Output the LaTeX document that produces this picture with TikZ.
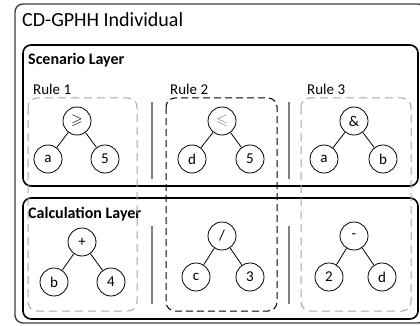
\documentclass[tikz,border=0pt]{standalone}
\usepackage{amssymb}
\usepackage{fontspec}
\setmainfont{Carlito}
\begin{document}
\begin{tikzpicture}[x=1pt,y=-1pt,
  treenode/.style={circle,draw=black,line width=0.8pt,minimum size=28pt,inner sep=0pt,font=\fontsize{15}{15}\selectfont},
  edge/.style={draw=black,line width=0.8pt},
  layerbox/.style={draw=black,line width=1.6pt,rounded corners=8pt},
  rulelight/.style={draw=black!35,line width=1pt,dash pattern=on 8pt off 5pt,rounded corners=9pt},
  ruledark/.style={draw=black,line width=1pt,dash pattern=on 7pt off 4pt,rounded corners=9pt},
  separator/.style={draw=black!50,line width=1.6pt},
  title/.style={anchor=base west,inner sep=0pt,font=\fontsize{20}{20}\selectfont},
  layertitle/.style={anchor=base west,inner sep=0pt,font=\fontsize{16}{16}\selectfont\bfseries},
  rulelabel/.style={anchor=base west,inner sep=0pt,font=\fontsize{15}{15}\selectfont}]
\useasboundingbox (0,0) rectangle (420,326);
\begin{scope}
\clip (0,0) rectangle (420,326);
% outer frame of the individual
\draw[draw=black!75,line width=1.4pt,rounded corners=8pt] (15,4) rectangle (426,323);
\end{scope}
\node[title] (ttl) at (22,27) {CD-GPHH Individual};

% the two layers
\draw[layerbox] (23,45) rectangle (418,186);
\draw[layerbox] (23,198) rectangle (418,319);
\node[layertitle] (scen) at (28,65) {Scenario Layer};
\node[layertitle] (calc) at (28,218) {Calculation Layer};

% rule frames spanning both layers
\draw[rulelight] (28,98) rectangle (137,311);
\draw[ruledark] (166,98) rectangle (277,311);
\draw[rulelight] (301,98) rectangle (411,311);
\node[rulelabel] (r1) at (33,95) {Rule 1};
\node[rulelabel] (r2) at (170,95) {Rule 2};
\node[rulelabel] (r3) at (307,95) {Rule 3};

% separators between rules
\draw[separator] (152,102) -- (152,179);
\draw[separator] (152,226) -- (152,304);
\draw[separator] (289,102) -- (289,179);
\draw[separator] (289,226) -- (289,304);

% scenario trees
\node[treenode] (s1) at (77,121) {$\geqslant$};
\node[treenode] (s1a) at (48,159) {a};
\node[treenode] (s1b) at (105,159) {5};
\node[treenode] (s2) at (222,121) {\textcolor{black!50}{$\leqslant$}};
\node[treenode] (s2a) at (192,159) {d};
\node[treenode] (s2b) at (250,159) {5};
\node[treenode] (s3) at (354,121) {\&};
\node[treenode] (s3a) at (324,159) {a};
\node[treenode] (s3b) at (383,159) {b};
\draw[edge] (s1) -- (s1a); \draw[edge] (s1) -- (s1b);
\draw[edge] (s2) -- (s2a); \draw[edge] (s2) -- (s2b);
\draw[edge] (s3) -- (s3a); \draw[edge] (s3) -- (s3b);

% calculation trees
\node[treenode] (c1) at (82,242) {+};
\node[treenode] (c1a) at (54,282) {b};
\node[treenode] (c1b) at (111,282) {4};
\node[treenode] (c2) at (222,236) {/};
\node[treenode] (c2a) at (196,277) {c};
\node[treenode] (c2b) at (250,277) {3};
\node[treenode] (c3) at (354,236) {-};
\node[treenode] (c3a) at (329,277) {2};
\node[treenode] (c3b) at (382,277) {d};
\draw[edge] (c1) -- (c1a); \draw[edge] (c1) -- (c1b);
\draw[edge] (c2) -- (c2a); \draw[edge] (c2) -- (c2b);
\draw[edge] (c3) -- (c3a); \draw[edge] (c3) -- (c3b);
\end{tikzpicture}
\end{document}
